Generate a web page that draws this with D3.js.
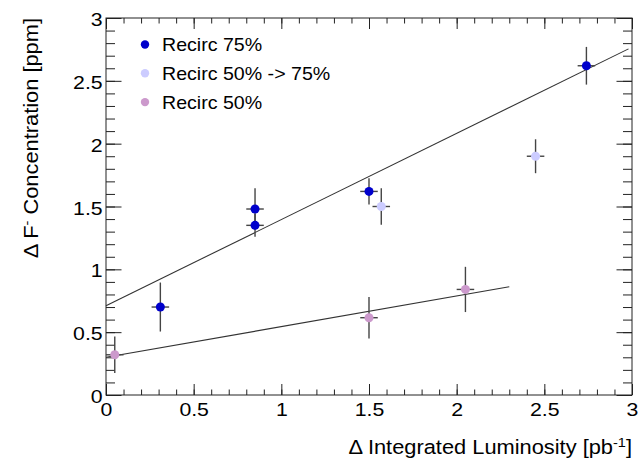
<!DOCTYPE html>
<html>
<head>
<meta charset="utf-8">
<script src="https://cdn.jsdelivr.net/npm/d3@7"></script>
<style>
  html, body { margin: 0; padding: 0; background: #fff; }
  svg text { font-family: "Liberation Sans", Arial, Helvetica, sans-serif; fill: #000; }
</style>
</head>
<body>
<div id="chart"></div>
<script>
// data
const blueX = [0.31, 0.85, 0.85, 1.50, 2.74]
const blueY = [0.70, 1.48, 1.35, 1.62, 2.62]
const blueErr = [0.195, 0.165, 0.09, 0.105, 0.15]

const lightX = [1.57, 2.45]
const lightY = [1.50, 1.90]
const lightErr = [0.145, 0.135]

const pinkX = [0.05, 1.50, 2.05]
const pinkY = [0.32, 0.615, 0.84]
const pinkErr = [0.145, 0.165, 0.18]

const xErr = 0.05

// fitted lines: [x0, x1, intercept, slope]
const fit75 = [0, 2.98, 0.71, 0.686]
const fit50 = [0, 2.30, 0.30, 0.244]

const majorTicks = [0, 0.5, 1, 1.5, 2, 2.5, 3]
const minorTicks = d3.range(0, 31).map(i => i / 10)

const legendLabels = ['Recirc 75%', 'Recirc 50% -> 75%', 'Recirc 50%']
const colors = ['#0000cc', '#ccccff', '#cc99cc']

const width = 639
const height = 462
const plotL = 106
const plotT = 18
const plotR = 632
const plotB = 395
const sx = 1.12 // the reference text is a bit wide

const svg = d3.select('#chart').append('svg')
  .attr('width', width)
  .attr('height', height)

const x = d3.scaleLinear().domain([0, 3]).range([plotL, plotR])
const y = d3.scaleLinear().domain([0, 3]).range([plotB, plotT])

const fmt = d => d3.format('~g')(d)

// axes with inward ticks, mirrored on top and right
function drawAxis (makeAxis, tr, major, minor, labels, pad) {
  const g1 = svg.append('g').attr('transform', tr)
    .call(makeAxis().tickValues(minorTicks).tickSizeInner(-minor).tickSizeOuter(0).tickFormat(''))
  g1.select('.domain').remove()
  const g2 = svg.append('g').attr('transform', tr)
    .call(makeAxis().tickValues(majorTicks).tickSizeInner(-major).tickSizeOuter(0)
      .tickPadding(pad).tickFormat(labels ? fmt : ''))
  g2.select('.domain').remove()
  svg.selectAll('.tick line').attr('stroke', '#222')
  return g2
}

const xb = drawAxis(() => d3.axisBottom(x), `translate(0,${plotB})`, 11, 5.5, true, 8)
xb.selectAll('text').attr('font-size', 19).attr('transform', `scale(${sx},1)`)
drawAxis(() => d3.axisTop(x), `translate(0,${plotT})`, 11, 5.5, false, 3)

const yl = drawAxis(() => d3.axisLeft(y), `translate(${plotL},0)`, 15.5, 9, true, 3)
yl.selectAll('text').attr('font-size', 19).attr('dy', '0.4em').attr('transform', `scale(${sx},1)`)
drawAxis(() => d3.axisRight(y), `translate(${plotR},0)`, 15.5, 9, false, 3)

// frame
svg.append('rect')
  .attr('x', plotL).attr('y', plotT)
  .attr('width', plotR - plotL).attr('height', plotB - plotT)
  .attr('fill', 'none').attr('stroke', '#222').attr('stroke-width', 1)

// fit lines
const line = d3.line().x(d => x(d[0])).y(d => y(d[1]))
;[fit75, fit50].forEach(f => {
  svg.append('path')
    .attr('d', line([[f[0], f[2] + f[3] * f[0]], [f[1], f[2] + f[3] * f[1]]]))
    .attr('fill', 'none')
    .attr('stroke', '#333')
    .attr('stroke-width', 1.1)
})

// points with errors
const series = [
  { xs: blueX, ys: blueY, es: blueErr, c: colors[0] },
  { xs: lightX, ys: lightY, es: lightErr, c: colors[1] },
  { xs: pinkX, ys: pinkY, es: pinkErr, c: colors[2] }
]

series.forEach(s => {
  const pts = s.xs.map((v, i) => ({ x: v, y: s.ys[i], e: s.es[i] }))
  const g = svg.append('g')
  g.selectAll('.ey').data(pts).join('line')
    .attr('class', 'ey')
    .attr('x1', d => x(d.x)).attr('x2', d => x(d.x))
    .attr('y1', d => y(d.y - d.e)).attr('y2', d => y(d.y + d.e))
    .attr('stroke', '#444').attr('stroke-width', 1.4)
  g.selectAll('.ex').data(pts).join('line')
    .attr('class', 'ex')
    .attr('x1', d => x(Math.max(0, d.x - xErr))).attr('x2', d => x(d.x + xErr))
    .attr('y1', d => y(d.y)).attr('y2', d => y(d.y))
    .attr('stroke', '#444').attr('stroke-width', 1.4)
  g.selectAll('circle').data(pts).join('circle')
    .attr('cx', d => x(d.x)).attr('cy', d => y(d.y))
    .attr('r', 4.5)
    .attr('fill', s.c)
})

// legend
const lg = svg.append('g')
legendLabels.forEach((t, i) => {
  const cy = 44.5 + i * 28.8
  lg.append('circle').attr('cx', 145).attr('cy', cy).attr('r', 4.2).attr('fill', colors[i])
  lg.append('text')
    .attr('transform', `translate(162,${cy + 6.5}) scale(1.06,1)`)
    .attr('font-size', 18.5)
    .text(t)
})

// axis titles
const xt = svg.append('text')
  .attr('transform', `translate(${plotR},454) scale(${sx},1)`)
  .attr('text-anchor', 'end')
  .attr('font-size', 19.5)
xt.append('tspan').text('\u0394 Integrated Luminosity [pb')
xt.append('tspan').attr('font-size', 13).attr('dy', -7).text('-1')
xt.append('tspan').attr('dy', 7).text(']')

const yt = svg.append('text')
  .attr('transform', `translate(38,${plotT}) rotate(-90) scale(${sx},1)`)
  .attr('text-anchor', 'end')
  .attr('font-size', 19.5)
yt.append('tspan').text('\u0394 F')
yt.append('tspan').attr('font-size', 13).attr('dy', -7).text('-')
yt.append('tspan').attr('dy', 7).text(' Concentration [ppm]')
</script>
</body>
</html>
